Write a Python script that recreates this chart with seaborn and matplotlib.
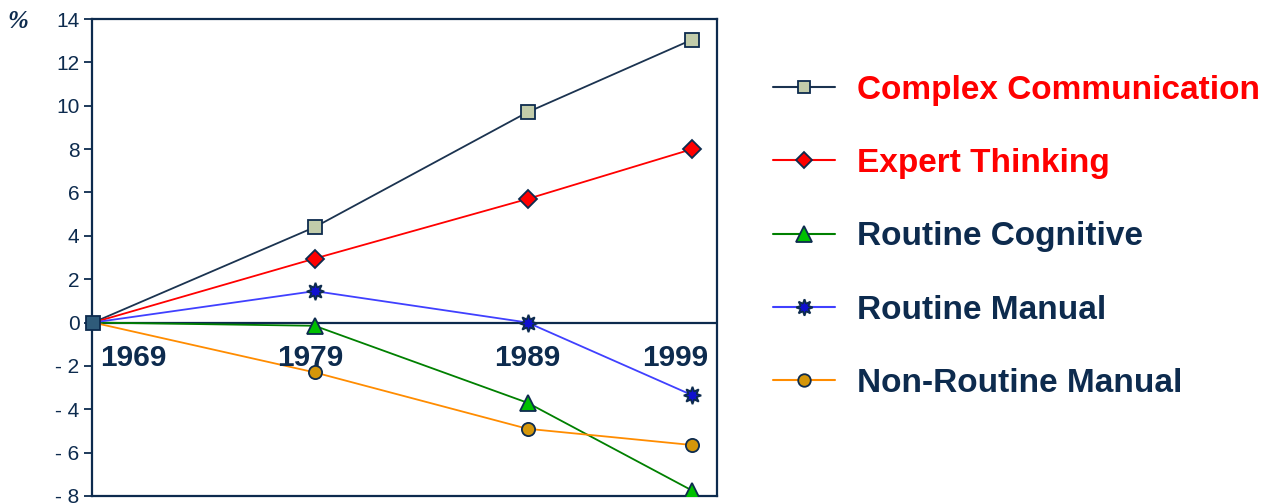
import matplotlib
matplotlib.use("Agg")
import matplotlib.pyplot as plt
import seaborn as sns
import pandas as pd
from matplotlib.lines import Line2D

# Change in task input relative to 1969 (percentage points)
years = ["1969", "1979", "1989", "1999"]
series_names = [
    "Complex Communication",
    "Expert Thinking",
    "Routine Cognitive",
    "Routine Manual",
    "Non-Routine Manual",
]
complex_communication = [0.0, 4.4, 9.7, 13.05]
expert_thinking = [0.0, 2.95, 5.7, 8.0]
routine_cognitive = [0.0, -0.15, -3.7, -7.75]
routine_manual = [0.0, 1.45, 0.0, -3.35]
non_routine_manual = [0.0, -2.3, -4.9, -5.65]
y_ticks = [14, 12, 10, 8, 6, 4, 2, 0, -2, -4, -6, -8]
y_tick_labels = ["14", "12", "10", "8", "6", "4", "2", "0", "- 2", "- 4", "- 6", "- 8"]

# horizontal placement of the four survey years along the axis
x_pos = [0.0, 10.0, 19.6, 27.03]

NAVY = "#0d2b4e"

sns.set_theme(style="white")
plt.rcParams["font.family"] = ["Liberation Sans", "DejaVu Sans"]

values = [complex_communication, expert_thinking, routine_cognitive,
          routine_manual, non_routine_manual]
styles = [
    dict(color="#1b3350", marker="s", mfc="#c2ccaa", ms=9.5),
    dict(color="#ff0000", marker="D", mfc="#ff0000", ms=9),
    dict(color="#008000", marker="^", mfc="#00c000", ms=11.5),
    dict(color="#4040ff", marker=(8, 1, 0), mfc="#1010d0", ms=12.5),
    dict(color="#ff8c00", marker="o", mfc="#d4960a", ms=9.5),
]
legend_colors = ["#ff0000", "#ff0000", NAVY, NAVY, NAVY]

rows = []
for name, vals in zip(series_names, values):
    for yr, xp, v in zip(years, x_pos, vals):
        rows.append({"series": name, "year": yr, "x": xp, "value": v})
df = pd.DataFrame(rows)

fig = plt.figure(figsize=(12.74, 5.04), dpi=100)
ax = fig.add_axes([0.0722, 0.0159, 0.4906, 0.9464])

ax.axhline(0, color=NAVY, lw=1.6, zorder=1)

handles = []
for name, st in zip(series_names, styles):
    sub = df[df["series"] == name]
    sns.lineplot(data=sub, x="x", y="value", ax=ax, color=st["color"],
                 lw=1.3, marker=st["marker"], markersize=st["ms"],
                 markerfacecolor=st["mfc"], markeredgecolor=NAVY,
                 markeredgewidth=1.3, markevery=[1, 2, 3], zorder=3,
                 legend=False)
    handles.append(Line2D([0], [0], color=st["color"], lw=1.5,
                          marker=st["marker"], markersize=st["ms"] * 0.95,
                          markerfacecolor=st["mfc"], markeredgecolor=NAVY,
                          markeredgewidth=1.3))

# shared starting point of all series
ax.plot(x_pos[0], complex_communication[0], marker="s", ms=9.5,
        mfc="#2f5b7a", mec=NAVY, mew=1.3, zorder=4, clip_on=False)

ax.set_xlim(-0.05, 28.15)
ax.set_ylim(-8, 14)
ax.set_xticks([])
ax.set_yticks(y_ticks)
ax.set_yticklabels(y_tick_labels, fontsize=15, color=NAVY)
ax.tick_params(axis="y", direction="out", length=6, width=1.3, color=NAVY,
               pad=3, left=True)
ax.set_xlabel("")
ax.set_ylabel("")
for sp in ax.spines.values():
    sp.set_color(NAVY)
    sp.set_linewidth(1.6)

# year labels under the zero line
year_offsets = [(5, "left"), (-3, "center"), (0, "center"), (11.8, "right")]
for yr, xp, (dx, ha) in zip(years, x_pos, year_offsets):
    ax.annotate(yr, (xp, 0), xytext=(dx, -25.5), textcoords="offset points",
                ha=ha, va="center", fontsize=21.5, fontweight="bold",
                color=NAVY)

fig.text(0.006, 0.958, "%", fontsize=18, fontstyle="italic",
         fontweight="bold", family=["Liberation Serif", "DejaVu Serif"],
         color=NAVY, ha="left", va="center")

leg = fig.legend(handles, series_names, loc="upper left",
                 bbox_to_anchor=(0.6068, 0.852), frameon=False,
                 fontsize=24, handlelength=1.86, handletextpad=0.66,
                 labelspacing=1.27, borderaxespad=0, borderpad=0)
for txt, c in zip(leg.get_texts(), legend_colors):
    txt.set_color(c)
    txt.set_fontweight("bold")

fig.savefig("out.png", dpi=100)
